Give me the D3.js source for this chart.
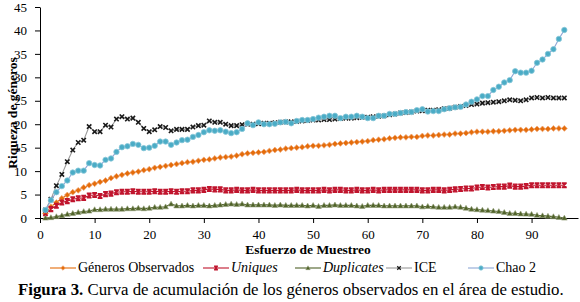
<!DOCTYPE html>
<meta charset="utf-8">
<style>
    body { margin: 0; background: #fff; overflow: hidden; }
    svg { display: block; }
    .axis path, .axis line { stroke: #000; stroke-width: 1; }
</style>
<svg id="canvas" width="580" height="302"></svg>
<script src="https://cdn.jsdelivr.net/npm/d3@7"></script>
<script>

    // muestras 1..96
    var observados = [1.0, 2.4, 3.3, 4.2, 4.9, 5.5, 5.9, 6.5, 7.0, 7.3, 7.7, 8.0, 8.5, 8.9, 9.2, 9.5, 9.7, 9.9, 10.2, 10.4,
        10.7, 10.9, 11.1, 11.3, 11.5, 11.7, 11.9, 12.0, 12.2, 12.4, 12.5, 12.7, 12.9, 13.0, 13.1, 13.3, 13.6, 13.8, 13.9, 14.0,
        14.1, 14.3, 14.5, 14.6, 14.8, 14.9, 15.0, 15.1, 15.3, 15.4, 15.4, 15.5, 15.6, 15.8, 15.9, 16.0, 16.1, 16.2, 16.3, 16.4,
        16.6, 16.7, 16.8, 17.0, 17.1, 17.2, 17.2, 17.3, 17.3, 17.5, 17.6, 17.6, 17.7, 17.8, 17.8, 18.0, 18.0, 18.1, 18.3, 18.4,
        18.4, 18.4, 18.5, 18.5, 18.6, 18.7, 18.8, 18.8, 18.8, 18.9, 19.0, 19.0, 19.0, 19.1, 19.1, 19.1];

    var uniques = [1.0, 1.9, 2.6, 3.3, 3.6, 4.0, 4.2, 4.3, 4.8, 4.9, 4.7, 5.1, 5.2, 5.5, 5.6, 5.6, 5.7, 5.6, 5.6, 5.6,
        5.7, 5.6, 5.6, 5.7, 5.6, 5.7, 5.7, 5.9, 5.9, 6.0, 6.2, 6.1, 6.1, 5.9, 5.9, 6.0, 5.9, 5.9, 6.0, 5.9,
        5.9, 5.9, 5.9, 5.9, 5.9, 5.9, 6.0, 5.9, 5.9, 5.9, 5.9, 6.0, 5.9, 6.0, 6.0, 5.9, 5.9, 6.0, 5.9, 5.9,
        6.0, 5.9, 6.0, 6.0, 6.0, 6.0, 6.0, 6.0, 6.0, 5.9, 5.9, 6.0, 6.0, 5.9, 6.0, 6.1, 6.2, 6.3, 6.3, 6.5,
        6.6, 6.5, 6.6, 6.7, 6.7, 6.9, 6.7, 6.7, 6.8, 7.0, 7.0, 7.0, 7.0, 7.0, 7.0, 7.0];

    var duplicates = [0.0, 0.1, 0.3, 0.5, 0.8, 1.0, 1.2, 1.4, 1.5, 1.8, 1.8, 1.9, 1.9, 1.9, 1.9, 2.0, 2.0, 2.1, 2.0, 2.1,
        2.3, 2.3, 2.4, 3.0, 2.6, 2.6, 2.7, 2.6, 2.7, 2.7, 2.6, 2.7, 2.8, 2.9, 3.0, 2.9, 3.0, 2.8, 2.8, 2.8,
        2.8, 2.8, 2.7, 2.8, 2.7, 2.7, 2.7, 2.7, 2.6, 2.7, 2.5, 2.7, 2.7, 2.8, 2.7, 2.7, 2.7, 2.6, 2.5, 2.7,
        2.7, 2.7, 2.6, 2.6, 2.6, 2.6, 2.6, 2.6, 2.6, 2.4, 2.5, 2.4, 2.3, 2.3, 2.3, 2.4, 2.3, 2.1, 1.9, 1.8,
        1.7, 1.6, 1.5, 1.4, 1.2, 1.0, 1.0, 0.9, 0.85, 0.8, 0.6, 0.5, 0.4, 0.3, 0.15, 0.0];

    var ice = [1.7, 4.0, 6.9, 9.3, 12.0, 14.5, 16.1, 16.6, 19.5, 18.4, 18.4, 19.8, 19.4, 21.1, 21.6, 21.1, 21.3, 20.4, 19.1, 18.4,
        18.8, 19.5, 19.3, 18.6, 18.9, 18.9, 18.9, 19.4, 19.7, 19.8, 20.7, 20.4, 20.4, 20.0, 19.7, 19.7, 19.9, 20.0, 20.0, 20.1,
        20.2, 20.2, 20.3, 20.4, 20.5, 20.5, 20.6, 20.7, 20.8, 20.9, 20.9, 21.0, 21.0, 21.1, 21.2, 21.3, 21.3, 21.4, 21.5, 21.5,
        21.6, 21.7, 21.8, 22.0, 22.2, 22.4, 22.5, 22.6, 22.8, 22.9, 23.0, 23.0, 23.1, 23.3, 23.4, 23.6, 23.8, 24.0, 24.2, 24.3,
        24.5, 24.6, 24.7, 24.8, 25.0, 25.2, 25.1, 25.0, 25.2, 25.6, 25.7, 25.6, 25.7, 25.6, 25.6, 25.6];

    var chao2 = [1.7, 3.8, 5.5, 6.8, 8.0, 9.7, 10.1, 10.1, 11.7, 11.3, 11.2, 12.4, 12.7, 14.1, 15.1, 15.3, 15.8, 15.6, 14.9, 15.0,
        15.4, 16.3, 16.3, 15.6, 16.1, 16.6, 16.7, 17.3, 17.7, 18.3, 18.7, 18.6, 18.7, 18.4, 18.1, 18.3, 19.0, 20.2, 19.8, 20.4,
        20.0, 20.0, 20.1, 20.4, 20.5, 20.2, 20.7, 20.9, 20.9, 21.1, 21.4, 21.6, 21.8, 21.8, 21.3, 21.6, 21.6, 21.8, 21.6, 21.3,
        21.3, 21.8, 21.8, 22.2, 22.2, 22.4, 22.6, 22.6, 23.0, 23.2, 22.7, 22.8, 22.8, 23.2, 23.4, 23.6, 23.7, 24.2, 24.8, 25.3,
        26.0, 26.0, 27.3, 28.0, 28.9, 29.4, 31.3, 31.0, 31.0, 31.4, 33.1, 33.8, 35.0, 36.0, 38.2, 40.1];

    var xTicks = [0, 10, 20, 30, 40, 50, 60, 70, 80, 90];
    var yTicks = [0, 5, 10, 15, 20, 25, 30, 35, 40, 45];

    var series = [
        {name: "Géneros Observados", values: observados, line: "#E46C0A", color: "#E46C0A", marker: "diamond", italic: false, lx: 50},
        {name: "Uniques", values: uniques, line: "#C0142D", color: "#C0142D", marker: "star", italic: true, lx: 203},
        {name: "Duplicates", values: duplicates, line: "#4F6228", color: "#4F6228", marker: "triangle", italic: true, lx: 295},
        {name: "ICE", values: ice, line: "#9A9A9A", color: "#1A1A1A", marker: "cross", italic: false, lx: 386},
        {name: "Chao 2", values: chao2, line: "#8FA8D6", color: "#4BACC6", marker: "circle", italic: false, lx: 468}
    ];

    var svg = d3.select("#canvas");
    var serif = "Liberation Serif";

    var x = d3.scaleLinear().domain([0, 98.5]).range([40, 578]);
    var y = d3.scaleLinear().domain([0, 45]).range([218, 7]);

    svg.append("g")
        .attr("class", "axis")
        .attr("transform", "translate(0,218)")
        .call(d3.axisBottom(x).tickValues(xTicks).tickSize(5).tickPadding(7).tickSizeOuter(0))
        .call(function(g) { g.attr("font-family", serif).attr("font-size", 13); });

    svg.append("g")
        .attr("class", "axis")
        .attr("transform", "translate(40,0)")
        .call(d3.axisLeft(y).tickValues(yTicks).tickSize(5).tickPadding(8).tickSizeOuter(0))
        .call(function(g) { g.attr("font-family", serif).attr("font-size", 13); });

    function drawMarker(g, s, cx, cy, k) {
        k = k || 1;
        var t = "translate(" + cx + "," + cy + ") scale(" + k + ")";
        if (s.marker === "diamond") {
            g.append("path")
                .attr("d", "M0,-2.9L2.9,0L0,2.9L-2.9,0Z")
                .attr("transform", t)
                .attr("fill", s.color).attr("stroke", "#F0A878").attr("stroke-width", 0.8);
        } else if (s.marker === "star") {
            g.append("path")
                .attr("d", "M-2.2,-2.2L2.2,2.2M-2.2,2.2L2.2,-2.2M0,-2.6L0,2.6M-2.4,-2.4L2.4,-2.4M-2.4,2.4L2.4,2.4")
                .attr("transform", t)
                .attr("fill", "none").attr("stroke", s.color).attr("stroke-width", 1.3);
        } else if (s.marker === "triangle") {
            g.append("path")
                .attr("d", "M0,-2.8L2.8,2.1L-2.8,2.1Z")
                .attr("transform", t)
                .attr("fill", s.color).attr("stroke", "#93A07A").attr("stroke-width", 0.6);
        } else if (s.marker === "cross") {
            g.append("path")
                .attr("d", "M-2.2,-2.2L2.2,2.2M-2.2,2.2L2.2,-2.2")
                .attr("transform", t)
                .attr("fill", "none").attr("stroke", s.color).attr("stroke-width", 1.6);
        } else {
            g.append("circle")
                .attr("cx", cx).attr("cy", cy).attr("r", 2.7 * k)
                .attr("fill", s.color).attr("stroke", "#86C6D8").attr("stroke-width", 0.8);
        }
    }

    var line = d3.line()
        .x(function(d, i) { return x(i + 1); })
        .y(function(d) { return y(d); });

    series.forEach(function(s) {
        var g = svg.append("g");
        g.append("path")
            .datum(s.values)
            .attr("fill", "none")
            .attr("stroke", s.line)
            .attr("stroke-width", 1.1)
            .attr("d", line);
        s.values.forEach(function(v, i) {
            drawMarker(g, s, x(i + 1), y(v));
        });
    });

    // titulos de ejes
    svg.append("text")
        .attr("transform", "translate(17,113) rotate(-90)")
        .attr("text-anchor", "middle")
        .attr("font-family", serif)
        .attr("font-size", 13.5)
        .attr("font-weight", "bold")
        .text("Riqueza de géneros");

    svg.append("text")
        .attr("x", 308).attr("y", 254)
        .attr("text-anchor", "middle")
        .attr("font-family", serif)
        .attr("font-size", 13.5)
        .attr("font-weight", "bold")
        .text("Esfuerzo de Muestreo");

    // leyenda
    var legend = svg.append("g");
    series.forEach(function(s) {
        var lg = legend.append("g");
        lg.append("line")
            .attr("x1", s.lx).attr("x2", s.lx + 26)
            .attr("y1", 268).attr("y2", 268)
            .attr("stroke", s.line).attr("stroke-width", 1.1);
        drawMarker(lg, s, s.lx + 13, 268, 0.8);
        lg.append("text")
            .attr("x", s.lx + 28).attr("y", 272)
            .attr("font-family", serif)
            .attr("font-size", 14)
            .attr("font-style", s.italic ? "italic" : "normal")
            .text(s.name);
    });

    // pie de figura
    var cap = svg.append("text")
        .attr("x", 18).attr("y", 295)
        .attr("font-family", serif)
        .attr("font-size", 16.8);
    cap.append("tspan").attr("font-weight", "bold").text("Figura 3.");
    cap.append("tspan").text(" Curva de acumulación de los géneros observados en el área de estudio.");

</script>
